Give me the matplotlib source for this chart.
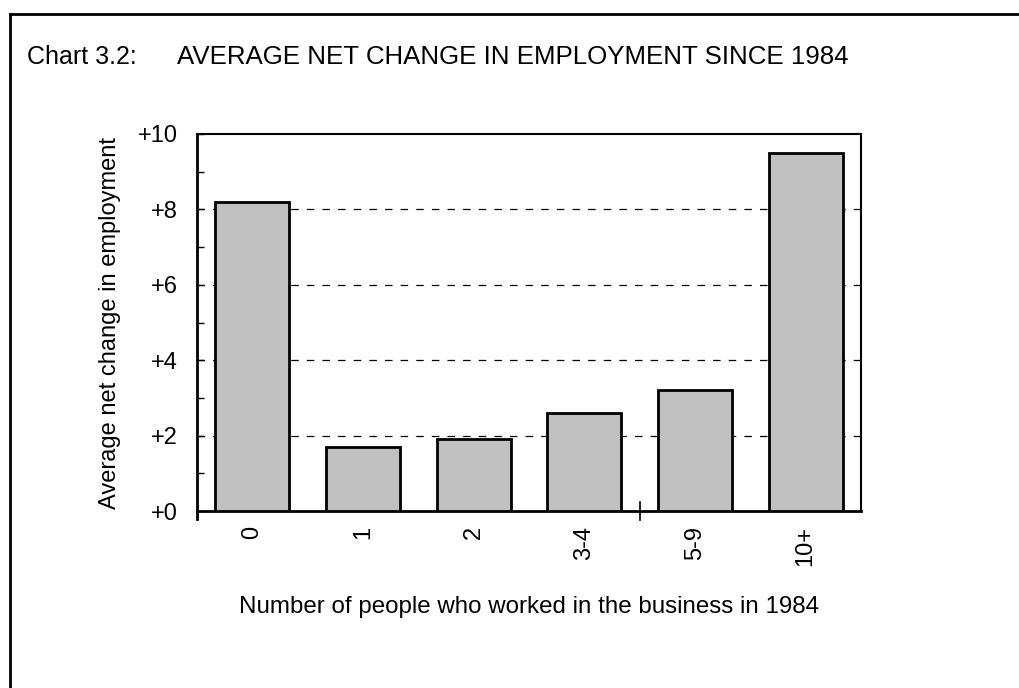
import numpy as np
import matplotlib
matplotlib.use("Agg")
import matplotlib.pyplot as plt
from matplotlib.lines import Line2D

plt.rcParams['font.family'] = ['Liberation Sans', 'DejaVu Sans']

categories = ["0", "1", "2", "3-4", "5-9", "10+"]
values = [8.2, 1.7, 1.9, 2.6, 3.2, 9.5]
yticks = [0, 2, 4, 6, 8, 10]
ytick_labels = ["+0", "+2", "+4", "+6", "+8", "+10"]

W, H = 1019, 688
fig = plt.figure(figsize=(W / 100, H / 100), dpi=100)

# outer frame (top and left lines)
fig.add_artist(Line2D([10 / W, 1], [1 - 14 / H, 1 - 14 / H], color="black", lw=2))
fig.add_artist(Line2D([10 / W, 10 / W], [0, 1 - 14 / H], color="black", lw=2))

fig.text(27 / W, 1 - 57 / H, "Chart 3.2:", fontsize=18, va="center", ha="left")
fig.text(177 / W, 1 - 57 / H, "AVERAGE NET CHANGE IN EMPLOYMENT SINCE 1984",
         fontsize=18.6, va="center", ha="left")

ax = fig.add_axes([197 / W, 1 - 511 / H, (861 - 197) / W, (511 - 134) / H])
x = np.arange(len(categories))
ax.bar(x, values, width=0.67, color="#c0c0c0", edgecolor="black", linewidth=2, zorder=3)

ax.set_xlim(-0.5, len(categories) - 0.5)
ax.set_ylim(0, 10)
ax.set_yticks(yticks)
ax.set_yticklabels(ytick_labels, fontsize=17)
ax.set_yticks([1, 3, 5, 7, 9], minor=True)
ax.tick_params(axis="y", which="both", direction="in", length=5, width=1, pad=14)
for yv in yticks[1:-1]:
    ax.axhline(yv, color="black", lw=0.9, ls=(0, (6, 6.5)), zorder=1)

ax.set_xticks(x)
ax.set_xticklabels(categories, rotation=90, fontsize=17)
ax.tick_params(axis="x", which="major", length=0, pad=11)
# single stray tick on the x axis, and left spine running below the axis
ax.plot([3.5, 3.5], [-0.23, 0.23], color="black", lw=1.2, clip_on=False, zorder=4)
ax.plot([-0.5, -0.5], [-0.22, 0], color="black", lw=2, clip_on=False, zorder=4)

for side in ["left", "bottom"]:
    ax.spines[side].set_linewidth(2)
for side in ["top", "right"]:
    ax.spines[side].set_linewidth(1.5)

fig.text(110 / W, 1 - 323 / H, "Average net change in employment", fontsize=17,
         rotation=90, ha="center", va="center")
fig.text(529 / W, 1 - 607 / H, "Number of people who worked in the business in 1984",
         fontsize=17.4, ha="center", va="center")

fig.savefig("out.png", dpi=100)
